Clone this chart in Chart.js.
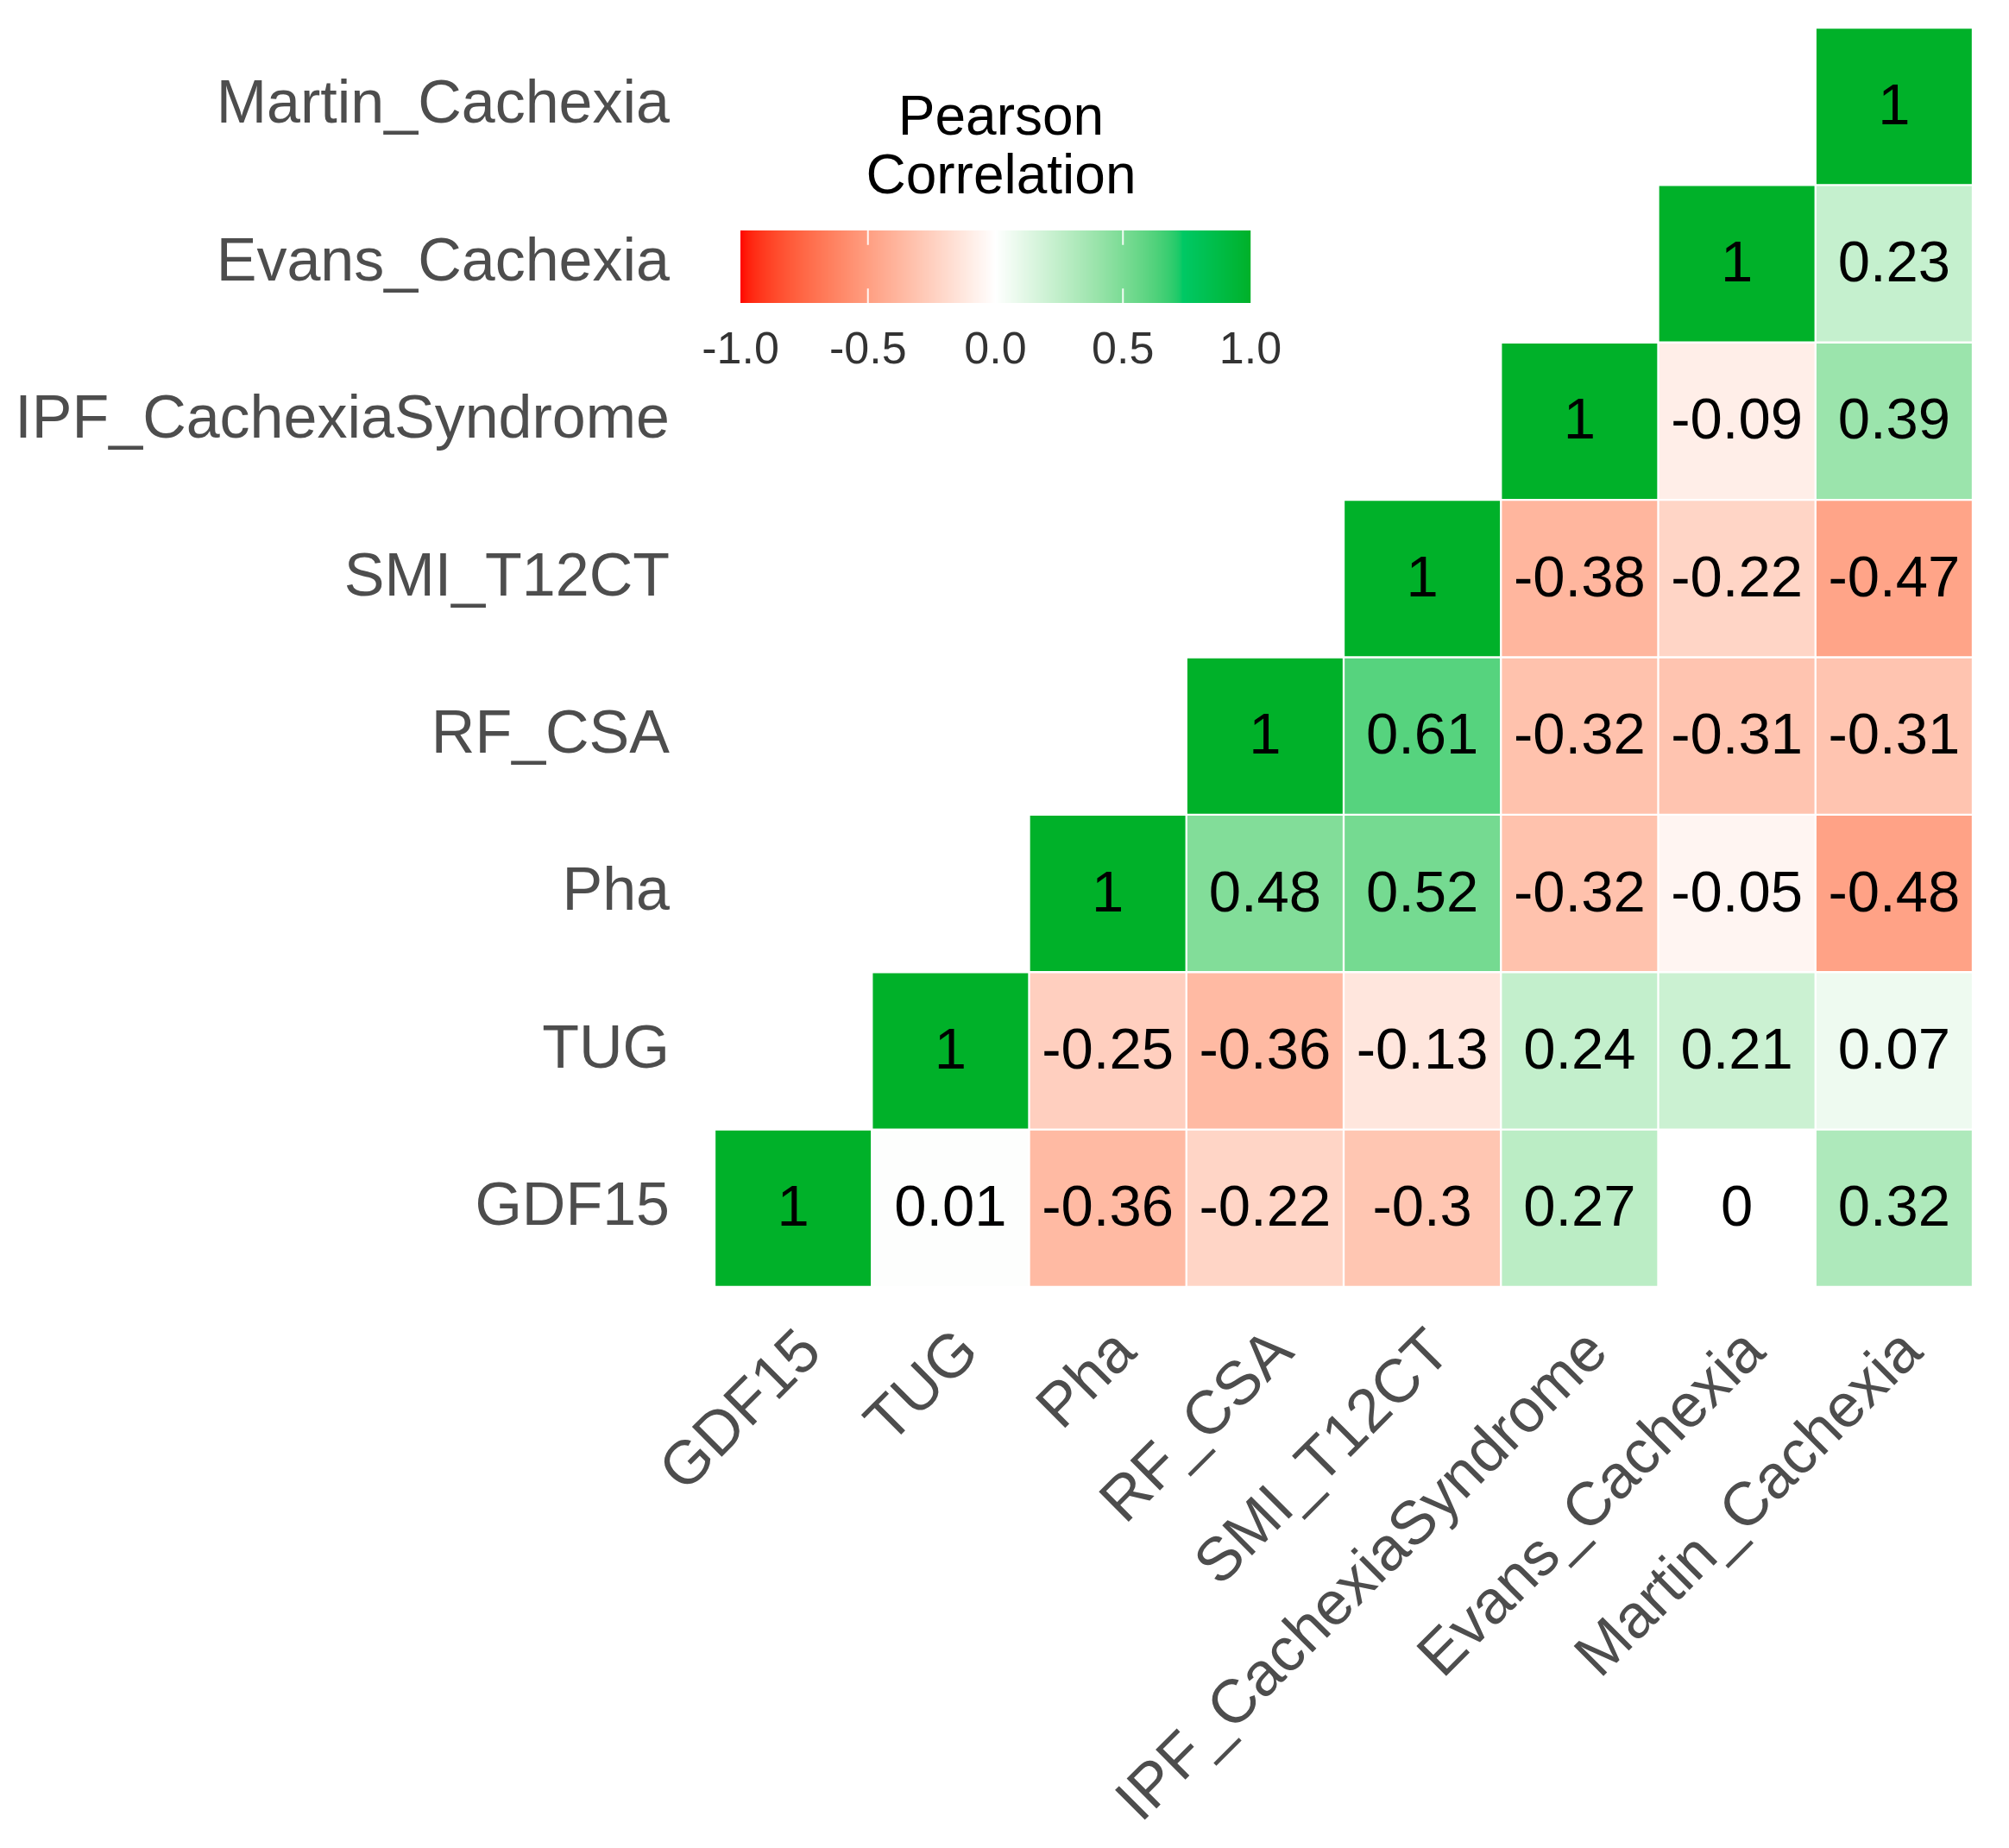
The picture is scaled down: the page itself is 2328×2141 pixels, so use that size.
<!DOCTYPE html>
<html>
<head>
<meta charset="utf-8">
<script src="https://cdn.jsdelivr.net/npm/chart.js@4.4.1/dist/chart.umd.min.js"></script>
<style>
  html, body { margin: 0; padding: 0; background: #fff; }
  #wrap { width: 2328px; height: 2141px; position: relative; }
</style>
</head>
<body>
<div id="wrap"><canvas id="chart"></canvas></div>
<script>
const variables = ["GDF15", "TUG", "Pha", "RF_CSA", "SMI_T12CT", "IPF_CachexiaSyndrome", "Evans_Cachexia", "Martin_Cachexia"];

// each row starts at its own diagonal cell and runs to the right
const rowGDF15 = [1, 0.01, -0.36, -0.22, -0.3, 0.27, 0, 0.32];
const rowTUG = [1, -0.25, -0.36, -0.13, 0.24, 0.21, 0.07];
const rowPha = [1, 0.48, 0.52, -0.32, -0.05, -0.48];
const rowRFCSA = [1, 0.61, -0.32, -0.31, -0.31];
const rowSMI = [1, -0.38, -0.22, -0.47];
const rowIPF = [1, -0.09, 0.39];
const rowEvans = [1, 0.23];
const rowMartin = [1];

const legendTicks = [-1, -0.5, 0, 0.5, 1];
const legendTickLabels = ["-1.0", "-0.5", "0.0", "0.5", "1.0"];

const rows = [rowGDF15, rowTUG, rowPha, rowRFCSA, rowSMI, rowIPF, rowEvans, rowMartin];

const FONT = '"Liberation Sans", Arial, Helvetica, sans-serif';

// colour scale: white in the middle, interpolated in Lab like ggplot
function toLin(c) {
    c /= 255;
    return c <= 0.04045 ? c / 12.92 : Math.pow((c + 0.055) / 1.055, 2.4);
}
function toSrgb(c) {
    c = Math.min(1, Math.max(0, c));
    const v = c <= 0.0031308 ? 12.92 * c : 1.055 * Math.pow(c, 1 / 2.4) - 0.055;
    return Math.round(v * 255);
}
function rgbToLab(r, g, b) {
    const R = toLin(r), G = toLin(g), B = toLin(b);
    const X = (0.4124 * R + 0.3576 * G + 0.1805 * B) / 0.95047;
    const Y = 0.2126 * R + 0.7152 * G + 0.0722 * B;
    const Z = (0.0193 * R + 0.1192 * G + 0.9505 * B) / 1.08883;
    const f = t => t > 0.008856 ? Math.cbrt(t) : 7.787 * t + 16 / 116;
    const fx = f(X), fy = f(Y), fz = f(Z);
    return [116 * fy - 16, 500 * (fx - fy), 200 * (fy - fz)];
}
function labToRgb(L, a, b) {
    const fy = (L + 16) / 116, fx = fy + a / 500, fz = fy - b / 200;
    const inv = t => t > 0.206893 ? t * t * t : (t - 16 / 116) / 7.787;
    const X = inv(fx) * 0.95047, Y = inv(fy), Z = inv(fz) * 1.08883;
    const R = 3.2406 * X - 1.5372 * Y - 0.4986 * Z;
    const G = -0.9689 * X + 1.8758 * Y + 0.0415 * Z;
    const B = 0.0557 * X - 0.2040 * Y + 1.0570 * Z;
    return [toSrgb(R), toSrgb(G), toSrgb(B)];
}
const lowLab = rgbToLab(255, 0, 0);
const highLab = [60.8, -86.9, 52];
function fillColor(v) {
    const t = Math.min(1, Math.abs(v));
    const end = v < 0 ? lowLab : highLab;
    const c = labToRgb(100 + (end[0] - 100) * t, end[1] * t, end[2] * t);
    return "rgb(" + c.join(",") + ")";
}

const datasets = rows.map((vals, i) => ({
    label: variables[i],
    data: variables.map((_, j) => (j >= i ? [i, i + 1] : null)),
    backgroundColor: ctx => {
        const v = vals[ctx.dataIndex - i];
        return v === undefined ? "rgba(0,0,0,0)" : fillColor(v);
    },
    borderColor: "#ffffff",
    borderWidth: 1.5,
    borderSkipped: false,
    barPercentage: 1,
    categoryPercentage: 1,
    grouped: false,
}));

const cellLabels = {
    id: "cellLabels",
    afterDatasetsDraw(chart) {
        const ctx = chart.ctx;
        ctx.save();
        ctx.font = "67px " + FONT;
        ctx.fillStyle = "#000000";
        ctx.textAlign = "center";
        ctx.textBaseline = "middle";
        rows.forEach((vals, i) => {
            const meta = chart.getDatasetMeta(i);
            meta.data.forEach((el, j) => {
                if(j < i) return;
                const p = el.getCenterPoint();
                ctx.fillText(String(vals[j - i]), p.x, p.y + 2);
            });
        });
        ctx.restore();
    },
};

const colourBar = {
    id: "colourBar",
    afterDraw(chart) {
        const ctx = chart.ctx;
        const x0 = 858, x1 = 1449, y0 = 267, y1 = 351;
        ctx.save();

        ctx.fillStyle = "#000000";
        ctx.font = "64px " + FONT;
        ctx.textAlign = "center";
        ctx.textBaseline = "middle";
        ctx.fillText("Pearson", 1160, 138);
        ctx.fillText("Correlation", 1160, 206);

        const steps = Math.round(x1 - x0);
        for(let k = 0; k < steps; k++) {
            const v = -1 + 2 * (k + 0.5) / steps;
            ctx.fillStyle = fillColor(v);
            ctx.fillRect(x0 + k, y0, 1.2, y1 - y0);
        }

        const h = y1 - y0;
        ctx.strokeStyle = "rgba(255,255,255,0.9)";
        ctx.lineWidth = 2;
        ctx.font = "52px " + FONT;
        ctx.fillStyle = "#333333";
        for(let k = 0; k < legendTicks.length; k++) {
            const x = x0 + (legendTicks[k] + 1) / 2 * (x1 - x0);
            if(k > 0 && k < legendTicks.length - 1) {
                ctx.beginPath();
                ctx.moveTo(x, y0);
                ctx.lineTo(x, y0 + h * 0.2);
                ctx.moveTo(x, y1);
                ctx.lineTo(x, y1 - h * 0.2);
                ctx.stroke();
            }
            ctx.fillText(legendTickLabels[k], x, 407);
        }
        ctx.restore();
    },
};

new Chart(document.getElementById("chart"), {
    type: "bar",
    data: { labels: variables, datasets },
    options: {
        responsive: true,
        maintainAspectRatio: false,
        devicePixelRatio: 1,
        animation: false,
        layout: { padding: { top: 32, right: 42, bottom: 0, left: 0 } },
        plugins: { legend: { display: false }, tooltip: { enabled: false } },
        scales: {
            x: {
                type: "category",
                grid: { display: false, drawTicks: false },
                border: { display: false },
                afterFit: s => {
                    s.height = 650;
                    s.paddingLeft = 0;
                    s.paddingRight = 0;
                },
                ticks: {
                    autoSkip: false,
                    maxRotation: 45,
                    minRotation: 45,
                    padding: 34,
                    labelOffset: 22,
                    color: "#4d4d4d",
                    font: { family: FONT, size: 71 },
                },
            },
            y: {
                type: "linear",
                min: 0,
                max: 8,
                grid: { display: false, drawTicks: false },
                border: { display: false },
                afterBuildTicks: s => { s.ticks = variables.map((_, i) => ({ value: i + 0.5 })); },
                afterFit: s => {
                    s.width = 828;
                    s.paddingTop = 0;
                    s.paddingBottom = 0;
                },
                ticks: {
                    autoSkip: false,
                    padding: 52,
                    color: "#4d4d4d",
                    font: { family: FONT, size: 70 },
                    callback: v => variables[Math.floor(v)],
                },
            },
        },
    },
    plugins: [cellLabels, colourBar],
});
</script>
</body>
</html>
